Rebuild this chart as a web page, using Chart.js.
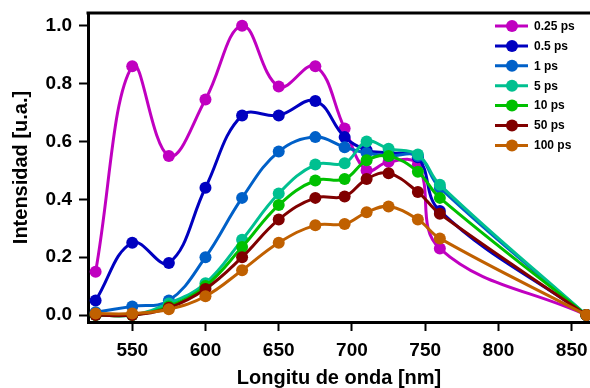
<!DOCTYPE html>
<html><head><meta charset="utf-8">
<script src="https://cdn.jsdelivr.net/npm/chart.js@4/dist/chart.umd.min.js"></script>
<style>html,body{margin:0;padding:0;background:#fff;} #wrap{width:590px;height:388px;}</style>
</head><body><div id="wrap"><canvas id="c" width="590" height="388"></canvas></div>
<script>
const wavelengths = [525, 550, 575, 600, 625, 650, 675, 695, 710, 725, 745, 760, 860];
const s025 = [0.15, 0.86, 0.55, 0.745, 1.0, 0.79, 0.86, 0.645, 0.50, 0.53, 0.52, 0.23, 0.0];
const s05  = [0.05, 0.25, 0.18, 0.44, 0.69, 0.69, 0.74, 0.615, 0.57, 0.56, 0.545, 0.36, 0.0];
const s1   = [0.01, 0.03, 0.05, 0.20, 0.405, 0.565, 0.615, 0.58, 0.56, 0.55, 0.55, 0.44, 0.0];
const s5   = [0.0, 0.0, 0.04, 0.11, 0.26, 0.42, 0.52, 0.525, 0.60, 0.575, 0.555, 0.45, 0.0];
const s10  = [0.0, 0.0, 0.03, 0.10, 0.235, 0.38, 0.465, 0.47, 0.535, 0.55, 0.495, 0.405, 0.0];
const s50  = [0.0, 0.0, 0.025, 0.09, 0.20, 0.33, 0.405, 0.41, 0.47, 0.49, 0.425, 0.35, 0.0];
const s100 = [0.005, 0.005, 0.02, 0.065, 0.155, 0.25, 0.31, 0.315, 0.355, 0.375, 0.33, 0.265, 0.0];
const seriesLabels = ['0.25 ps', '0.5 ps', '1 ps', '5 ps', '10 ps', '50 ps', '100 ps'];
const seriesValues = [s025, s05, s1, s5, s10, s50, s100];
const colors = ['#c000c0', '#0000c0', '#0060c8', '#00c090', '#00c000', '#800000', '#c06000'];
const xTicks = [550, 600, 650, 700, 750, 800, 850];
const yTicks = [0.0, 0.2, 0.4, 0.6, 0.8, 1.0];

const FONT = '"Liberation Sans", Arial, sans-serif';
Chart.defaults.font.family = FONT;

const datasets = seriesValues.map((vals, i) => ({
  label: seriesLabels[i],
  data: wavelengths.map((w, j) => ({x: w, y: vals[j]})),
  borderColor: colors[i],
  backgroundColor: colors[i],
  pointBackgroundColor: colors[i],
  pointBorderColor: colors[i],
  borderWidth: 3,
  pointRadius: 6,
  pointHoverRadius: 6,
  pointBorderWidth: 0,
  tension: 0.4,
  order: seriesValues.length - i
}));

const frame = {
  id: 'frame',
  afterDraw(chart) {
    const ctx = chart.ctx, a = chart.chartArea;
    ctx.save();
    ctx.strokeStyle = '#000';
    ctx.lineWidth = 3;
    ctx.beginPath();
    ctx.moveTo(a.left - 1.5, a.top);
    ctx.lineTo(590, a.top);
    ctx.stroke();
    // legend
    const lx0 = 495, lx1 = 528, mx = 512, tx = 534;
    chart.data.datasets.forEach((ds, i) => {
      const y = 26 + i * 19.9;
      ctx.strokeStyle = ds.borderColor;
      ctx.lineWidth = 3;
      ctx.beginPath();
      ctx.moveTo(lx0, y); ctx.lineTo(lx1, y); ctx.stroke();
      ctx.fillStyle = ds.borderColor;
      ctx.beginPath(); ctx.arc(mx, y, 6, 0, Math.PI * 2); ctx.fill();
      ctx.fillStyle = '#000';
      ctx.font = 'bold 12px ' + FONT;
      ctx.textBaseline = 'middle';
      ctx.textAlign = 'left';
      ctx.fillText(ds.label, tx, y + 0.5);
    });
    ctx.restore();
  }
};

new Chart(document.getElementById('c'), {
  type: 'line',
  data: {datasets},
  options: {
    responsive: false,
    animation: false,
    devicePixelRatio: 1,
    layout: {padding: {top: 13, left: 0, right: 0, bottom: 0}, autoPadding: false},
    plugins: {legend: {display: false}, tooltip: {enabled: false}},
    scales: {
      x: {
        type: 'linear',
        min: 519.8,
        max: 862.5,
        afterBuildTicks: s => { s.ticks = xTicks.map(v => ({value: v})); },
        afterFit: s => { s.height = 66; s.paddingLeft = 0; s.paddingRight = 0; },
        border: {display: true, width: 3, color: '#000'},
        grid: {drawOnChartArea: false, drawTicks: true, tickLength: 9, tickWidth: 2, tickColor: '#000'},
        ticks: {color: '#000', font: {size: 19, weight: 'bold'}, padding: 8, maxRotation: 0, autoSkip: false,
                callback: v => String(v)},
        title: {display: true, text: 'Longitu de onda [nm]', color: '#000',
                font: {size: 20, weight: 'bold', lineHeight: 1}, padding: {top: 0, bottom: 0}}
      },
      y: {
        type: 'linear',
        min: -0.024,
        max: 1.044,
        afterBuildTicks: s => { s.ticks = yTicks.map(v => ({value: v})); },
        afterFit: s => { s.width = 88; s.paddingTop = 0; s.paddingBottom = 0; },
        border: {display: true, width: 3, color: '#000'},
        grid: {drawOnChartArea: false, drawTicks: true, tickLength: 9, tickWidth: 2, tickColor: '#000'},
        ticks: {color: '#000', font: {size: 19, weight: 'bold'}, padding: 7, autoSkip: false,
                callback: v => Number(v).toFixed(1)},
        title: {display: true, text: 'Intensidad [u.a.]', color: '#000',
                font: {size: 20, weight: 'bold', lineHeight: 1}, padding: {top: 11, bottom: 0}}
      }
    }
  },
  plugins: [frame]
});
</script>
</body></html>
